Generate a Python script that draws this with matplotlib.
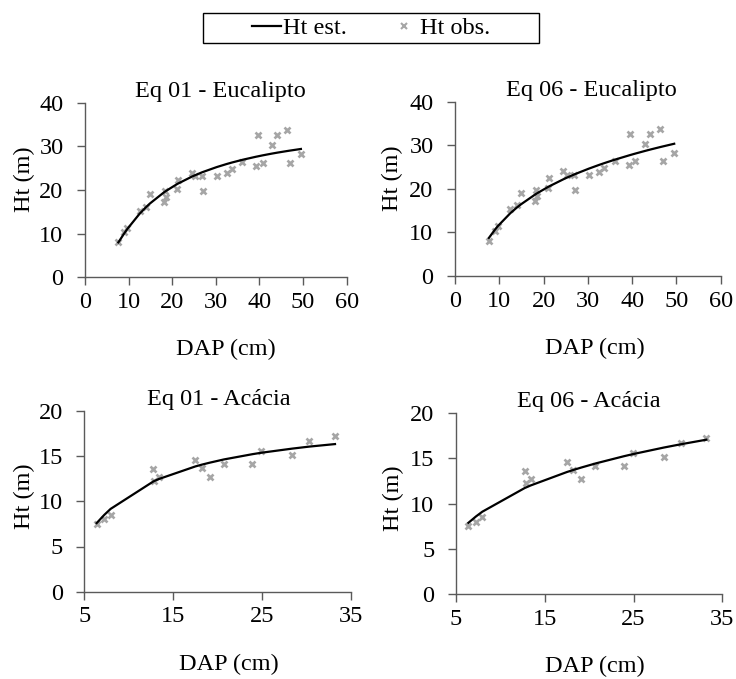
import matplotlib
matplotlib.use("Agg")
import matplotlib.pyplot as plt
from matplotlib.lines import Line2D
from matplotlib.patches import Rectangle

plt.rcParams['font.family'] = ['Liberation Serif', 'DejaVu Serif']

# ---------------- data ----------------
dap_euc = [7.65, 9.0, 9.7, 12.5, 13.9, 14.9, 18.1, 18.4, 18.6, 21.0, 21.3, 24.5, 25.2, 26.8,
           27.1, 30.2, 32.5, 33.7, 36.1, 39.2, 39.6, 40.7, 42.8, 44.1, 46.3, 47.0, 49.5]
ht_obs_euc = [8.0, 10.3, 11.4, 15.3, 16.2, 19.1, 17.2, 19.8, 18.3, 20.3, 22.4, 24.0, 23.2, 23.2,
              19.8, 23.2, 23.9, 24.7, 26.5, 25.5, 32.6, 26.3, 30.3, 32.6, 33.7, 26.3, 28.2]
ht_est_euc_eq01 = [8.0, 10.07, 11.07, 14.54, 15.98, 16.92, 19.46, 19.66, 19.80, 21.29, 21.46, 23.06,
                   23.37, 24.04, 24.15, 25.25, 25.96, 26.30, 26.92, 27.62, 27.70, 27.93, 28.33,
                   28.56, 28.92, 29.03, 29.40]
ht_est_euc_eq06 = [8.73, 10.61, 11.48, 14.42, 15.65, 16.45, 18.70, 18.90, 19.02, 20.43, 20.59, 22.21,
                   22.54, 23.25, 23.38, 24.63, 25.48, 25.90, 26.70, 27.65, 27.77, 28.09, 28.67,
                   29.02, 29.58, 29.75, 30.35]

dap_aca = [6.39, 7.25, 7.96, 12.76, 12.84, 13.4, 17.5, 18.2, 19.1, 20.7, 23.9, 24.9, 28.4, 30.3, 33.2]
ht_obs_aca = [7.49, 8.0, 8.49, 13.58, 12.25, 12.73, 14.58, 13.65, 12.69, 14.13, 14.13, 15.57,
              15.09, 16.68, 17.23]
ht_est_aca_eq01 = [7.59, 8.50, 9.16, 12.19, 12.23, 12.47, 13.86, 14.05, 14.27, 14.63, 15.21, 15.37,
                   15.83, 16.05, 16.33]
ht_est_aca_eq06 = [7.86, 8.57, 9.09, 11.72, 11.75, 11.99, 13.48, 13.70, 13.97, 14.42, 15.22, 15.45,
                   16.18, 16.54, 17.05]

titles = ["Eq 01 - Eucalipto", "Eq 06 - Eucalipto", "Eq 01 - Acácia", "Eq 06 - Acácia"]
xlabel = "DAP (cm)"
ylabel = "Ht (m)"
legend_labels = ["Ht est.", "Ht obs."]

# ---------------- figure ----------------
W, H = 736, 679
fig = plt.figure(figsize=(W / 100, H / 100), dpi=100)

FS = 17.5
axis_col = '#5a5a5a'
obs_col = '#a6a6a6'

def px_axes(l, r, t, b):
    return [l / W, 1 - b / H, (r - l) / W, (b - t) / H]

panels = [
    dict(rect=px_axes(85, 346.7, 102.7, 277.3), x=dap_euc, obs=ht_obs_euc, est=ht_est_euc_eq01,
         xlim=(0, 60), xt=[0, 10, 20, 30, 40, 50, 60], ylim=(0, 40), yt=[0, 10, 20, 30, 40],
         tx=5, xlx=10, yl=(-50, 0.56)),
    dict(rect=px_axes(455, 720.7, 101.7, 276), x=dap_euc, obs=ht_obs_euc, est=ht_est_euc_eq06,
         xlim=(0, 60), xt=[0, 10, 20, 30, 40, 50, 60], ylim=(0, 40), yt=[0, 10, 20, 30, 40],
         tx=4, xlx=7, yl=(-52, 0.56)),
    dict(rect=px_axes(84.3, 351, 410.9, 591.7), x=dap_aca, obs=ht_obs_aca, est=ht_est_aca_eq01,
         xlim=(5, 35), xt=[5, 15, 25, 35], ylim=(0, 20), yt=[0, 5, 10, 15, 20],
         tx=1.5, xlx=11, yl=(-49, 0.53)),
    dict(rect=px_axes(456, 722.3, 413, 594), x=dap_aca, obs=ht_obs_aca, est=ht_est_aca_eq06,
         xlim=(5, 35), xt=[5, 15, 25, 35], ylim=(0, 20), yt=[0, 5, 10, 15, 20],
         tx=0, xlx=6, yl=(-52, 0.53)),
]

for p, title in zip(panels, titles):
    ax = fig.add_axes(p['rect'])
    wpx = p['rect'][2] * W
    hpx = p['rect'][3] * H
    ax.plot(p['x'], p['obs'], linestyle='none', marker='x', color=obs_col,
            markersize=4.6, markeredgewidth=1.9, zorder=2)
    ax.plot(p['x'], p['est'], color='black', linewidth=1.6, zorder=3)
    ax.set_xlim(*p['xlim'])
    ax.set_ylim(*p['ylim'])
    ax.set_xticks(p['xt'])
    ax.set_yticks(p['yt'])
    for s in ['top', 'right']:
        ax.spines[s].set_visible(False)
    for s in ['left', 'bottom']:
        ax.spines[s].set_color(axis_col)
        ax.spines[s].set_linewidth(1.0)
    ax.tick_params(direction='out', length=5.5, width=1.0, color=axis_col,
                   labelsize=FS, labelcolor='black')
    ax.tick_params(axis='x', pad=5)
    ax.tick_params(axis='y', pad=10)
    ax.set_title(title, fontsize=FS, x=0.5 + p['tx'] / wpx, pad=4.3)
    ax.set_xlabel(xlabel, fontsize=FS)
    ax.set_ylabel(ylabel, fontsize=FS)
    ax.xaxis.set_label_coords(0.5 + p['xlx'] / wpx, -62 / hpx)
    ax.yaxis.set_label_coords(p['yl'][0] / wpx, p['yl'][1])

# legend frame drawn as a figure rectangle
fig.patches.append(Rectangle((203 / W, 1 - 43 / H), (539 - 203) / W, (43 - 12.7) / H,
                             transform=fig.transFigure, fill=False, edgecolor='black',
                             linewidth=1.0))
handles = [Line2D([], [], color='black', linewidth=1.6),
           Line2D([], [], linestyle='none', marker='x', color=obs_col, markersize=3.8,
                  markeredgewidth=1.5)]
leg = fig.legend(handles, legend_labels, loc='center', bbox_to_anchor=(371 / W, 1 - 28 / H),
                 ncol=2, fontsize=FS, frameon=False, handlelength=1.23, handletextpad=0.05,
                 columnspacing=1.75, borderpad=0, borderaxespad=0)

fig.savefig('out.png', dpi=100)
